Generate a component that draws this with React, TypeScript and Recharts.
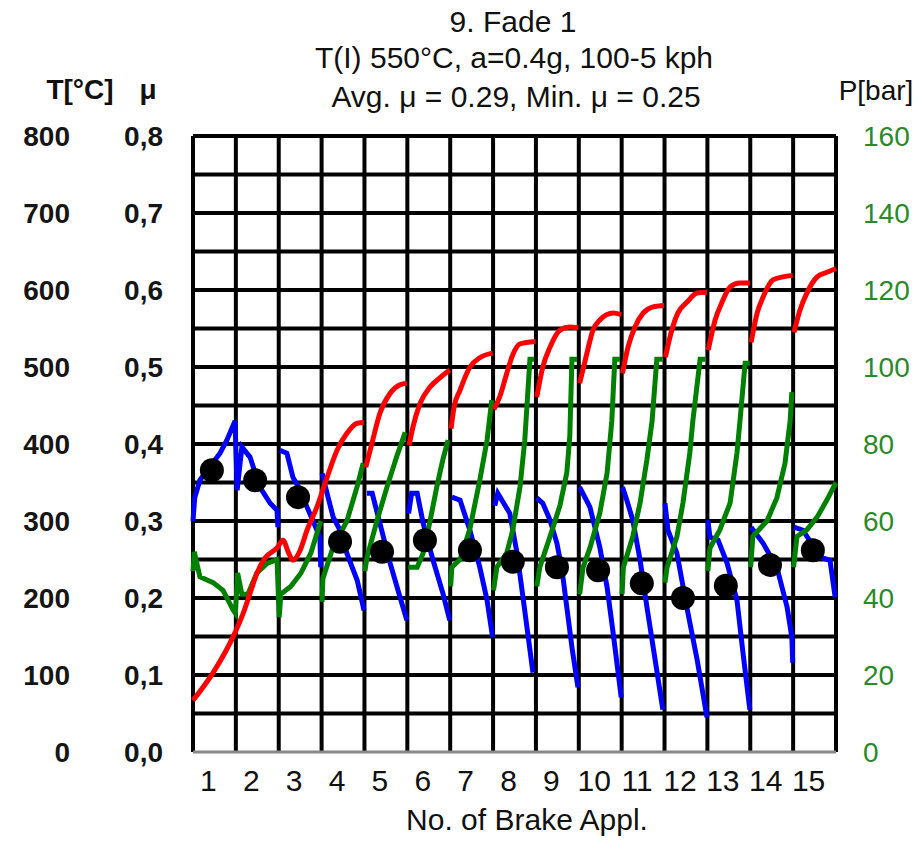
import React from 'react';
import { ComposedChart, Line, XAxis, YAxis, CartesianGrid } from 'recharts';

const FONT = '"Liberation Sans", Arial, sans-serif';

// Axis labels and tick values
const brakeLabels = ['1', '2', '3', '4', '5', '6', '7', '8', '9', '10', '11', '12', '13', '14', '15'];
const brakeCenters = [0.5, 1.5, 2.5, 3.5, 4.5, 5.5, 6.5, 7.5, 8.5, 9.5, 10.5, 11.5, 12.5, 13.5, 14.5];
const brakeBounds = [0, 1, 2, 3, 4, 5, 6, 7, 8, 9, 10, 11, 12, 13, 14, 15];
const tempTicks = [0, 100, 200, 300, 400, 500, 600, 700, 800];
const muTickLabels = ['0,0', '0,1', '0,2', '0,3', '0,4', '0,5', '0,6', '0,7', '0,8'];
const gridLevels = [50, 100, 150, 200, 250, 300, 350, 400, 450, 500, 550, 600, 650, 700, 750, 800];
const pressureTicks = [0, 20, 40, 60, 80, 100, 120, 140, 160];

// Disc temperature T [°C], one segment per brake application: [application position, value]
const temperature: [number, number][][] = [
  [
    [0.0, 67], [0.47, 103], [0.98, 155], [1.17, 180], [1.33, 206], [1.49, 232], [1.68, 252],
    [1.96, 265], [2.1, 275], [2.22, 260], [2.33, 249], [2.5, 262], [2.66, 288], [2.89, 318],
    [3.13, 357], [3.36, 392], [3.59, 414], [3.83, 427], [3.99, 428],
  ],
  [[4.03, 370], [4.17, 400], [4.36, 440], [4.6, 466], [4.83, 477], [4.99, 479]],
  [[5.04, 398], [5.13, 422], [5.3, 453], [5.53, 474], [5.76, 486], [5.99, 496]],
  [[6.02, 420], [6.09, 448], [6.23, 470], [6.46, 500], [6.69, 512], [6.99, 518]],
  [[7.02, 445], [7.16, 462], [7.32, 492], [7.46, 516], [7.63, 530], [7.99, 533]],
  [[8.02, 461], [8.16, 500], [8.33, 526], [8.56, 548], [8.79, 552], [8.99, 551]],
  [[9.02, 479], [9.19, 518], [9.33, 548], [9.49, 561], [9.8, 570], [9.99, 568]],
  [[10.02, 492], [10.15, 526], [10.31, 552], [10.5, 570], [10.73, 578], [10.99, 580]],
  [[11.02, 513], [11.17, 548], [11.31, 570], [11.52, 584], [11.76, 596], [11.99, 597]],
  [[12.02, 522], [12.18, 561], [12.34, 584], [12.53, 604], [12.76, 609], [12.99, 609]],
  [[13.02, 532], [13.16, 570], [13.3, 591], [13.53, 613], [13.76, 617], [13.99, 619]],
  [[14.02, 545], [14.16, 574], [14.32, 596], [14.56, 617], [14.79, 623], [15.0, 628]],
];

// Brake pressure P [bar]
const pressure: [number, number][][] = [
  [
    [0.0, 47], [0.03, 52], [0.16, 45.5], [0.47, 44], [0.7, 42], [0.93, 37], [0.99, 36],
    [1.04, 46.5], [1.14, 41], [1.28, 41], [1.49, 46.5], [1.73, 49], [1.96, 50],
    [2.01, 35], [2.05, 41], [2.28, 43], [2.52, 46.5], [2.75, 51.7], [2.98, 60],
  ],
  [[3.01, 39], [3.03, 45], [3.26, 53], [3.59, 60], [3.83, 69], [3.97, 75]],
  [[4.01, 47], [4.06, 50.6], [4.29, 60], [4.53, 69], [4.76, 77], [4.95, 83]],
  [[5.02, 48], [5.23, 48], [5.37, 51.7], [5.53, 60], [5.69, 69], [5.83, 76], [5.95, 81]],
  [[6.01, 43], [6.04, 48], [6.23, 50], [6.46, 58], [6.69, 70.6], [6.86, 81], [6.97, 91.4]],
  [[7.01, 42], [7.09, 48], [7.32, 51.7], [7.46, 57.7], [7.63, 69], [7.74, 81], [7.86, 102], [7.96, 102]],
  [[8.02, 43], [8.09, 48], [8.33, 56], [8.56, 64], [8.72, 72.5], [8.79, 82], [8.84, 102], [8.96, 102]],
  [[9.02, 41], [9.1, 48], [9.26, 53], [9.49, 62], [9.66, 72.5], [9.77, 86], [9.84, 102], [9.96, 102]],
  [[10.01, 41], [10.04, 48], [10.26, 56], [10.43, 64.7], [10.59, 76], [10.71, 86], [10.82, 102], [10.96, 102]],
  [[11.01, 44], [11.06, 48], [11.29, 56], [11.43, 64.7], [11.59, 77.7], [11.66, 86], [11.83, 102], [11.96, 102]],
  [[12.01, 47], [12.06, 53], [12.29, 57.7], [12.53, 64.7], [12.69, 77.7], [12.76, 86], [12.88, 101], [12.99, 101]],
  [[13.01, 48], [13.06, 56], [13.39, 60], [13.62, 66], [13.81, 75], [13.93, 86], [13.97, 93.5]],
  [[14.01, 48], [14.09, 56], [14.32, 57.7], [14.56, 61], [14.79, 65.5], [15.0, 70]],
];

// Friction coefficient μ
const friction: [number, number][][] = [
  [
    [0.0, 0.30], [0.04, 0.33], [0.16, 0.353], [0.63, 0.388], [0.79, 0.405], [0.98, 0.43],
    [1.03, 0.34], [1.14, 0.396], [1.33, 0.383], [1.56, 0.344], [1.8, 0.323], [1.96, 0.314], [1.98, 0.292],
  ],
  [[2.03, 0.392], [2.19, 0.388], [2.33, 0.357], [2.5, 0.34], [2.66, 0.318], [2.8, 0.30], [2.96, 0.279], [2.98, 0.24]],
  [[3.01, 0.362], [3.15, 0.331], [3.27, 0.305], [3.43, 0.288], [3.59, 0.258], [3.83, 0.223], [3.99, 0.184]],
  [[4.06, 0.336], [4.18, 0.336], [4.36, 0.297], [4.6, 0.245], [4.83, 0.201], [4.99, 0.171]],
  [[5.03, 0.31], [5.1, 0.336], [5.23, 0.336], [5.37, 0.297], [5.6, 0.249], [5.83, 0.206], [5.99, 0.171]],
  [[6.04, 0.331], [6.23, 0.327], [6.46, 0.288], [6.69, 0.24], [6.86, 0.197], [6.99, 0.149]],
  [[7.04, 0.32], [7.11, 0.336], [7.28, 0.32], [7.39, 0.31], [7.56, 0.258], [7.7, 0.2], [7.93, 0.103]],
  [[8.02, 0.33], [8.16, 0.323], [8.33, 0.301], [8.49, 0.271], [8.61, 0.236], [8.72, 0.188], [8.84, 0.136], [8.98, 0.084]],
  [[9.02, 0.344], [9.14, 0.331], [9.26, 0.318], [9.49, 0.266], [9.66, 0.214], [9.8, 0.155], [9.99, 0.071]],
  [[10.02, 0.344], [10.12, 0.327], [10.26, 0.301], [10.43, 0.249], [10.59, 0.188], [10.78, 0.12], [10.96, 0.055]],
  [[11.01, 0.323], [11.08, 0.288], [11.29, 0.258], [11.52, 0.188], [11.76, 0.12], [11.99, 0.045]],
  [[12.01, 0.301], [12.06, 0.279], [12.25, 0.275], [12.46, 0.245], [12.69, 0.197], [12.83, 0.129], [12.99, 0.055]],
  [[13.02, 0.292], [13.3, 0.271], [13.62, 0.24], [13.86, 0.188], [13.97, 0.149], [13.99, 0.116]],
  [[14.02, 0.292], [14.23, 0.288], [14.63, 0.253], [14.86, 0.249], [14.98, 0.201]],
];

// Mean μ of each brake application
const avgMuPosition = [0.44, 1.45, 2.45, 3.43, 4.41, 5.41, 6.46, 7.46, 8.49, 9.45, 10.47, 11.43, 12.43, 13.46, 14.46];
const avgMu = [0.366, 0.353, 0.331, 0.273, 0.26, 0.275, 0.262, 0.247, 0.24, 0.236, 0.219, 0.2, 0.216, 0.243, 0.262];

type Row = { x: number; [k: string]: number | null };

// Flatten segments into one row list, with a null row between applications to break the line
function segmentRows(segments: [number, number][][], key: string): Row[] {
  const rows: Row[] = [];
  segments.forEach((seg, i) => {
    if (i > 0) rows.push({ x: seg[0][0], [key]: null });
    seg.forEach(([x, v]) => rows.push({ x, [key]: v }));
  });
  return rows;
}

const tempRows = segmentRows(temperature, 't');
const pressureRows = segmentRows(pressure, 'p');
const muRows = segmentRows(friction, 'mu');
const avgRows: Row[] = avgMuPosition.map((x, i) => ({ x, avg: avgMu[i] }));

const scaleOf = (axis: any) => (v: number) => {
  const s = axis && axis.scale;
  if (typeof s === 'function') return s(v);
  if (s && typeof s.map === 'function') return s.map(v);
  return NaN;
};

const LeftTick = (props: any) => {
  const { x, y, payload } = props;
  const idx = tempTicks.indexOf(payload.value);
  return (
    <g fontFamily={FONT} fontSize={28} fontWeight="bold" fill="#151515">
      <text x={x - 123} y={y} dy={10} textAnchor="end">{String(payload.value)}</text>
      <text x={x - 30} y={y} dy={10} textAnchor="end">{muTickLabels[idx]}</text>
    </g>
  );
};

const RightTick = (props: any) => {
  const { x, y, payload } = props;
  return (
    <text x={x + 27} y={y} dy={10} textAnchor="start" fontFamily={FONT} fontSize={28} fill="#2a8a2a">
      {String(payload.value)}
    </text>
  );
};

const BrakeTick = (props: any) => {
  const { x, y, payload } = props;
  const idx = brakeCenters.indexOf(payload.value);
  return (
    <text x={x - 6} y={y + 39} textAnchor="middle" fontFamily={FONT} fontSize={30} fill="#111">
      {brakeLabels[idx]}
    </text>
  );
};

export default function App() {
  return (
    <div style={{ position: 'absolute', left: 0, top: 0, width: 919, height: 844, background: '#fff' }}>
      <ComposedChart width={919} height={844} margin={{ top: 136, right: 0, bottom: 0, left: 0 }}>
        <CartesianGrid
          xAxisId="brake"
          yAxisId="T"
          stroke="#000"
          strokeWidth={4}
          verticalCoordinatesGenerator={({ xAxis }: any) => brakeBounds.map(scaleOf(xAxis))}
          horizontalCoordinatesGenerator={({ yAxis }: any) => gridLevels.map(scaleOf(yAxis))}
        />
        <XAxis
          xAxisId="brake"
          type="number"
          dataKey="x"
          domain={[0, 15]}
          ticks={brakeCenters}
          interval={0}
          height={92}
          tickSize={0}
          tickMargin={0}
          tickLine={false}
          axisLine={{ stroke: '#888', strokeWidth: 3 }}
          tick={<BrakeTick />}
        />
        <YAxis
          yAxisId="T"
          type="number"
          domain={[0, 800]}
          ticks={tempTicks}
          interval={0}
          width={193}
          tickSize={0}
          tickMargin={0}
          tickLine={false}
          axisLine={false}
          tick={<LeftTick />}
        />
        <YAxis yAxisId="mu" type="number" domain={[0, 0.8]} hide />
        <YAxis
          yAxisId="P"
          orientation="right"
          type="number"
          domain={[0, 160]}
          ticks={pressureTicks}
          interval={0}
          width={83}
          tickSize={0}
          tickMargin={0}
          tickLine={false}
          axisLine={false}
          tick={<RightTick />}
        />
        <Line
          data={muRows}
          xAxisId="brake"
          yAxisId="mu"
          dataKey="mu"
          type="linear"
          stroke="#0000ff"
          strokeWidth={5}
          dot={false}
          isAnimationActive={false}
        />
        <Line
          data={avgRows}
          xAxisId="brake"
          yAxisId="mu"
          dataKey="avg"
          stroke="none"
          dot={{ r: 12, fill: '#000', stroke: 'none' }}
          isAnimationActive={false}
        />
        <Line
          data={pressureRows}
          xAxisId="brake"
          yAxisId="P"
          dataKey="p"
          type="linear"
          stroke="#008000"
          strokeWidth={5}
          dot={false}
          isAnimationActive={false}
        />
        <Line
          data={tempRows}
          xAxisId="brake"
          yAxisId="T"
          dataKey="t"
          type="monotone"
          stroke="#ff0000"
          strokeWidth={5}
          dot={false}
          isAnimationActive={false}
        />
      </ComposedChart>
      <svg
        width={919}
        height={844}
        style={{ position: 'absolute', left: 0, top: 0, pointerEvents: 'none' }}
        fontFamily={FONT}
        fill="#111"
      >
        <text x={513} y={32} textAnchor="middle" fontSize={30}>9. Fade 1</text>
        <text x={514} y={68} textAnchor="middle" fontSize={30}>T(I) 550°C, a=0.4g, 100-5 kph</text>
        <text x={516} y={107} textAnchor="middle" fontSize={30}>Avg. μ = 0.29, Min. μ = 0.25</text>
        <text x={80} y={99} textAnchor="middle" fontSize={28} fontWeight="bold">T[°C]</text>
        <text x={148} y={99} textAnchor="middle" fontSize={28} fontWeight="bold">μ</text>
        <text x={876} y={100} textAnchor="middle" fontSize={28}>P[bar]</text>
        <text x={527} y={830} textAnchor="middle" fontSize={30}>No. of Brake Appl.</text>
      </svg>
    </div>
  );
}
